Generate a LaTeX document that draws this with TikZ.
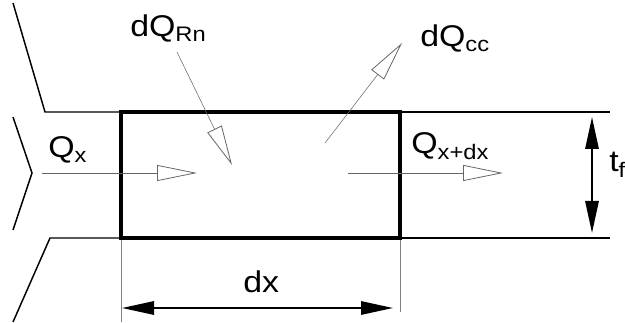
\documentclass[tikz,border=0pt]{standalone}
\usepackage{fontspec}
\setmainfont{Liberation Sans}
\usetikzlibrary{arrows.meta,positioning}
\newcommand\widetxt[1]{\scalebox{1.13}[1]{#1}}
\tikzset{
  wall/.style={line width=1.1pt, black},
  cell/.style={line width=3pt, black},
  heatflow/.style={line width=0.4pt, gray!80!black,
                   -{Triangle[open, length=30pt, width=12pt, line width=0.6pt]}},
  dimline/.style={line width=1.5pt, black,
                  {Triangle[length=24pt, width=10pt]}-{Triangle[length=24pt, width=10pt]}},
  extline/.style={line width=0.4pt, gray},
  lbl/.style={font=\fontsize{22.5}{27}\selectfont, inner sep=0pt, anchor=base west},
}
\begin{document}
\begin{tikzpicture}[x=0.75pt, y=-0.75pt]
  \useasboundingbox (0,0) rectangle (625,323);
  % Fin walls, left side broken off
  \draw[wall] (13,3) -- (45,112) -- (121,112);
  \draw[wall] (13,322) -- (50,238) -- (121,238);
  \draw[wall] (13,117) -- (32,173) -- (13,230);
  \draw[wall] (400,112) -- (610,112);
  \draw[wall] (400,238) -- (610,238);
  % Control volume
  \draw[cell] (121,112) rectangle (400,238);
  % Heat flows
  \coordinate (qxs) at (42,173);
  \coordinate (qxe) at (197,173);
  \draw[heatflow] (qxs) -- (qxe);
  \node[lbl] (qx) at (48,158) {\widetxt{Q\textsubscript{x}}};
  \coordinate (rns) at (177,52);
  \coordinate (rne) at (232,165);
  \draw[heatflow] (rns) -- (rne);
  \node[lbl] (qrn) at (130,37) {\widetxt{dQ\textsubscript{Rn}}};
  \coordinate (ccs) at (325,143);
  \coordinate (cce) at (402,43);
  \draw[heatflow] (ccs) -- (cce);
  \node[lbl] (qcc) at (420,47) {\widetxt{dQ\textsubscript{cc}}};
  \coordinate (qds) at (348,173);
  \coordinate (qde) at (503,173);
  \draw[heatflow] (qds) -- (qde);
  \node[lbl] (qxdx) at (411,154) {\widetxt{Q\textsubscript{x+dx}}};
  % Thickness t_f
  \coordinate (tft) at (592,117);
  \coordinate (tfb) at (592,233);
  \draw[dimline] (tft) -- (tfb);
  \node[lbl] (tf) at (609,172) {\widetxt{t\textsubscript{f}}};
  % Length dx
  \draw[extline] (121,240) -- (121,322);
  \draw[extline] (400,240) -- (400,312);
  \coordinate (dxl) at (122,308);
  \coordinate (dxr) at (393,308);
  \draw[dimline] (dxl) -- (dxr);
  \node[lbl] (dx) at (243,293) {\widetxt{dx}};
\end{tikzpicture}
\end{document}
